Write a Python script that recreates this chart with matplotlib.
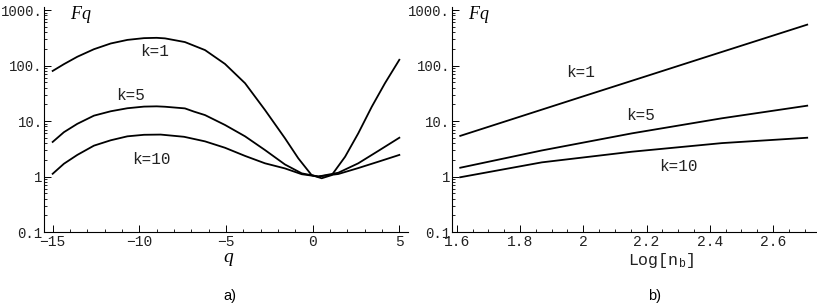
import numpy as np
import matplotlib
matplotlib.use("Agg")
import matplotlib.pyplot as plt
import matplotlib.ticker as ticker

plt.rcParams['mathtext.fontset'] = 'custom'
plt.rcParams['mathtext.rm'] = 'Liberation Mono'
plt.rcParams['mathtext.it'] = 'Liberation Serif:italic'

MONO = 'Liberation Mono'

# panel a) : F_q against q
q_k1 = [-15.0, -14.35, -13.58, -12.62, -11.65, -10.69, -9.73, -9.0, -8.52, -7.37,
        -6.21, -5.06, -3.9, -2.75, -1.6, -0.83, -0.06, 0.52, 1.1, 1.87,
        2.63, 3.41, 4.17, 5.0]
F_k1 = [80, 106, 144, 197, 250, 290, 312, 316, 309, 265,
        190, 107, 48, 15.8, 4.9, 2.13, 1.06, 0.93, 1.06, 2.27,
        6.0, 18.1, 48, 127]

q_k5 = [-15.0, -14.35, -13.58, -12.62, -11.65, -10.69, -9.73, -9.0, -8.52, -7.37,
        -6.85, -6.21, -5.06, -3.9, -2.75, -1.6, -0.63, 0.33, 1.48, 2.63,
        3.79, 5.0]
F_k5 = [4.2, 6.3, 8.9, 12.5, 15.0, 17.0, 18.2, 18.4, 18.1, 16.9,
        14.8, 12.8, 8.5, 5.3, 3.0, 1.65, 1.14, 1.0, 1.17, 1.73,
        2.9, 5.0]

q_k10 = [-15.0, -14.35, -13.58, -12.62, -11.65, -10.69, -9.73, -8.77, -7.42, -6.21,
         -5.06, -3.9, -2.75, -1.6, -0.63, 0.33, 1.48, 2.63, 3.79, 5.0]
F_k10 = [1.12, 1.7, 2.45, 3.6, 4.5, 5.3, 5.65, 5.7, 5.2, 4.3,
         3.3, 2.35, 1.73, 1.4, 1.1, 1.0, 1.11, 1.42, 1.85, 2.45]

# panel b) : F_q against Log[n_b]
logn_k1 = [1.611, 2.0, 2.2, 2.4, 2.6, 2.708]
F_b_k1 = [5.4, 27.9, 64.6, 150, 347, 546]

logn_k5 = [1.611, 1.869, 2.154, 2.438, 2.708]
F_b_k5 = [1.44, 2.95, 6.0, 11.2, 18.9]

logn_k10 = [1.611, 1.869, 2.154, 2.438, 2.708]
F_b_k10 = [0.97, 1.8, 2.8, 4.0, 5.0]

ytick_vals = [0.1, 1, 10, 100, 1000]
ytick_labels = ['0.1', '1', '10.', '100.', '1000.']


def style_axes(ax):
    ax.set_yscale('log')
    ax.set_ylim(0.1, 1150)
    for s in ['top', 'right']:
        ax.spines[s].set_visible(False)
    for s in ['left', 'bottom']:
        ax.spines[s].set_linewidth(0.8)
    ax.yaxis.set_major_locator(ticker.FixedLocator(ytick_vals))
    ax.yaxis.set_major_formatter(ticker.FixedFormatter(ytick_labels))
    ax.yaxis.set_minor_locator(ticker.LogLocator(base=10, subs=np.arange(2, 10)))
    ax.yaxis.set_minor_formatter(ticker.NullFormatter())
    ax.tick_params(which='major', direction='in', length=5, width=0.7,
                   labelcolor='#222222')
    ax.tick_params(axis='x', which='major', labelsize=10.5, pad=2.5)
    ax.tick_params(axis='y', which='major', labelsize=10, pad=1)
    ax.tick_params(which='minor', direction='in', length=2.5, width=0.6)
    for lab in ax.get_xticklabels() + ax.get_yticklabels():
        lab.set_fontfamily(MONO)


fig = plt.figure(figsize=(8.17, 3.05), dpi=100)
ax1 = fig.add_axes([44/817, 73/305, 364/817, 225.3/305])
ax2 = fig.add_axes([451.7/817, 73/305, 365/817, 225.3/305])

lw = 1.3
ax1.plot(q_k1, F_k1, color='black', lw=lw)
ax1.plot(q_k5, F_k5, color='black', lw=lw)
ax1.plot(q_k10, F_k10, color='black', lw=lw)
ax1.set_xlim(-15.5, 5.5)
ax1.xaxis.set_major_locator(ticker.FixedLocator([-15, -10, -5, 0, 5]))
ax1.xaxis.set_minor_locator(ticker.MultipleLocator(1))
style_axes(ax1)
kw = dict(fontfamily=MONO, fontsize=11.5, ha='center', va='center', color='#222222')
ax1.text(-9.15, 177, 'k=1', **kw)
ax1.text(-10.5, 29, 'k=5', **kw)
ax1.text(-9.3, 2.0, 'k=10', **kw)
ax1.text(0.1, 0.965, '$Fq$', transform=ax1.transAxes, fontsize=13, ha='center', va='center')

ax2.plot(logn_k1, F_b_k1, color='black', lw=lw)
ax2.plot(logn_k5, F_b_k5, color='black', lw=lw)
ax2.plot(logn_k10, F_b_k10, color='black', lw=lw)
ax2.set_xlim(1.584, 2.738)
ax2.xaxis.set_major_locator(ticker.FixedLocator([1.6, 1.8, 2.0, 2.2, 2.4, 2.6]))
ax2.xaxis.set_major_formatter(ticker.FixedFormatter(['1.6', '1.8', '2', '2.2', '2.4', '2.6']))
ax2.xaxis.set_minor_locator(ticker.MultipleLocator(0.05))
style_axes(ax2)
ax2.text(1.99, 75, 'k=1', **kw)
ax2.text(2.18, 12.8, 'k=5', **kw)
ax2.text(2.30, 1.5, 'k=10', **kw)
ax2.text(0.075, 0.965, '$Fq$', transform=ax2.transAxes, fontsize=13, ha='center', va='center')

fig.text(229/817, 1 - 262/305, '$q$', fontsize=14, ha='center', va='baseline')
fig.text(661/817, 1 - 261/305, r'Log[n$_{\mathrm{b}}$]', fontfamily=MONO, fontsize=12,
         ha='center', va='center', color='#222222')
fig.text(230/817, 1 - 296/305, 'a)', fontfamily='Liberation Sans', fontsize=10.5,
         ha='center', va='center')
fig.text(655/817, 1 - 296/305, 'b)', fontfamily='Liberation Sans', fontsize=10.5,
         ha='center', va='center')

fig.savefig('out.png', dpi=100)
